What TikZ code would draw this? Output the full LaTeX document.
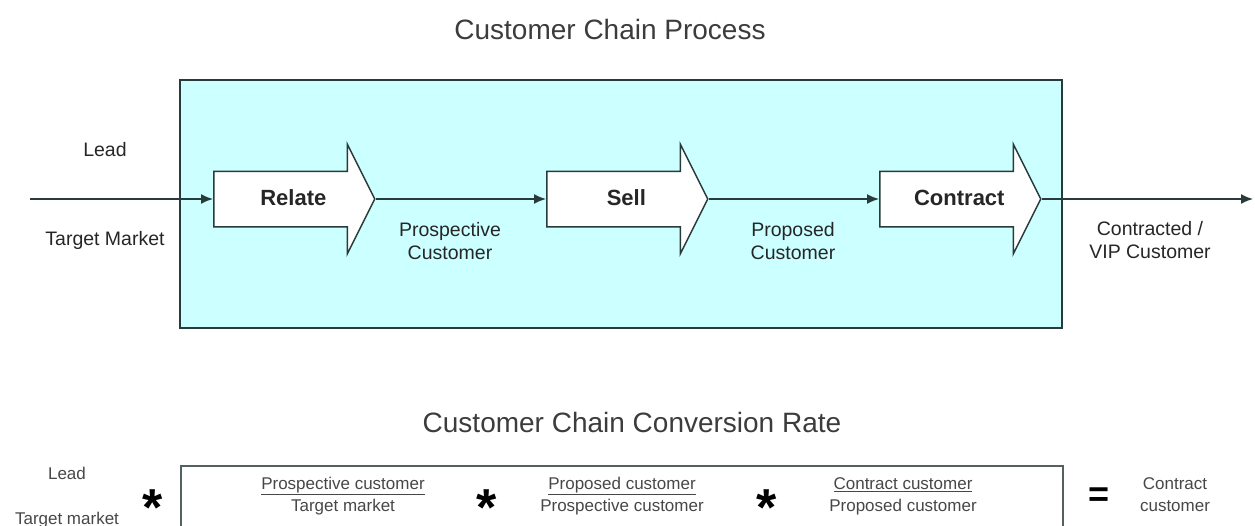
\documentclass[tikz,border=0pt]{standalone}
\usepackage{fontspec}
\setmainfont{Liberation Sans}
\usepackage{tikz}
\usetikzlibrary{positioning, shapes.arrows, arrows.meta}
\definecolor{boxcyan}{RGB}{204,255,255}
\definecolor{edge}{RGB}{40,58,58}
\definecolor{ink}{RGB}{38,38,38}

\tikzset{
    stage/.style={single arrow, draw=edge, fill=white, line width=1.5pt,
        minimum height=161pt, minimum width=108pt,
        inner xsep=0pt, inner ysep=17pt, text height=16pt, text depth=4pt,
        single arrow head extend=27pt, single arrow tip angle=126.87,
        execute at begin node=\hspace*{12pt},
        text=ink, font=\fontsize{22}{26}\selectfont\bfseries},
    flow/.style={draw=edge, line width=1.6pt, -{Latex[length=12pt,width=10pt]}},
    tag/.style={align=center, text=ink, font=\fontsize{19.5}{23}\selectfont},
    ratio/.style={align=center, text=ink!85, font=\fontsize{17}{22}\selectfont},
    heading/.style={text=ink!90, font=\fontsize{28}{32}\selectfont},
    op/.style={anchor=base, text=black, font=\fontsize{52}{52}\selectfont\bfseries}
}

\begin{document}
\begin{tikzpicture}[x=1pt, y=-1pt]
            \useasboundingbox (0, 0) rectangle (1255, 525);

            % process chain
            \node (title) [heading] at (610, 29) {Customer Chain Process};
            \node (process) [draw=edge, fill=boxcyan, line width=2pt, minimum width=882pt, minimum height=248pt] at (621, 204) {};

            \node (relate) [stage, anchor=tail] at (213, 199) {Relate};
            \node (sell) [stage, anchor=tail] at (546, 199) {Sell};
            \node (contract) [stage, anchor=tail] at (879, 199) {Contract};

            \coordinate (in) at (30, 199);
            \coordinate (out) at (1253, 199);
            \node (lead) [tag] at (105, 150) {Lead};
            \node (market) [tag] at (105, 240) {Target Market};
            \node (prospective) [tag] at (450, 241) {Prospective\\Customer};
            \node (proposed) [tag] at (793, 241) {Proposed\\Customer};
            \node (contracted) [tag] at (1150, 240) {Contracted /\\VIP Customer};

            \draw [flow] (in) -- (relate.tail);
            \draw [flow] (relate.tip) -- (sell.tail);
            \draw [flow] (sell.tip) -- (contract.tail);
            \draw [flow] (contract.tip) -- (out);

            % conversion rate
            \node (rtitle) [heading] at (632, 422) {Customer Chain Conversion Rate};
            \node (rate) [draw=edge!80, line width=2pt, minimum width=882pt, minimum height=120pt, anchor=north west] at (180, 465) {};

            \node (rlead) [ratio] at (67, 473) {Lead};
            \node (rmarket) [ratio] at (67, 520) {Target market};
            \node (star1) [op] at (153, 525) {*};
            \node (frac1) [ratio] at (343, 496) {\underline{Prospective customer}\\Target market};
            \node (star2) [op] at (487, 525) {*};
            \node (frac2) [ratio] at (622, 496) {\underline{Proposed customer}\\Prospective customer};
            \node (star3) [op] at (767, 525) {*};
            \node (frac3) [ratio] at (903, 496) {\underline{Contract customer}\\Proposed customer};
            \node (equals) [op, font=\fontsize{36}{36}\selectfont\bfseries] at (1099, 506) {=};
            \node (result) [ratio] at (1175, 495) {Contract\\customer};
        \end{tikzpicture}
\end{document}
